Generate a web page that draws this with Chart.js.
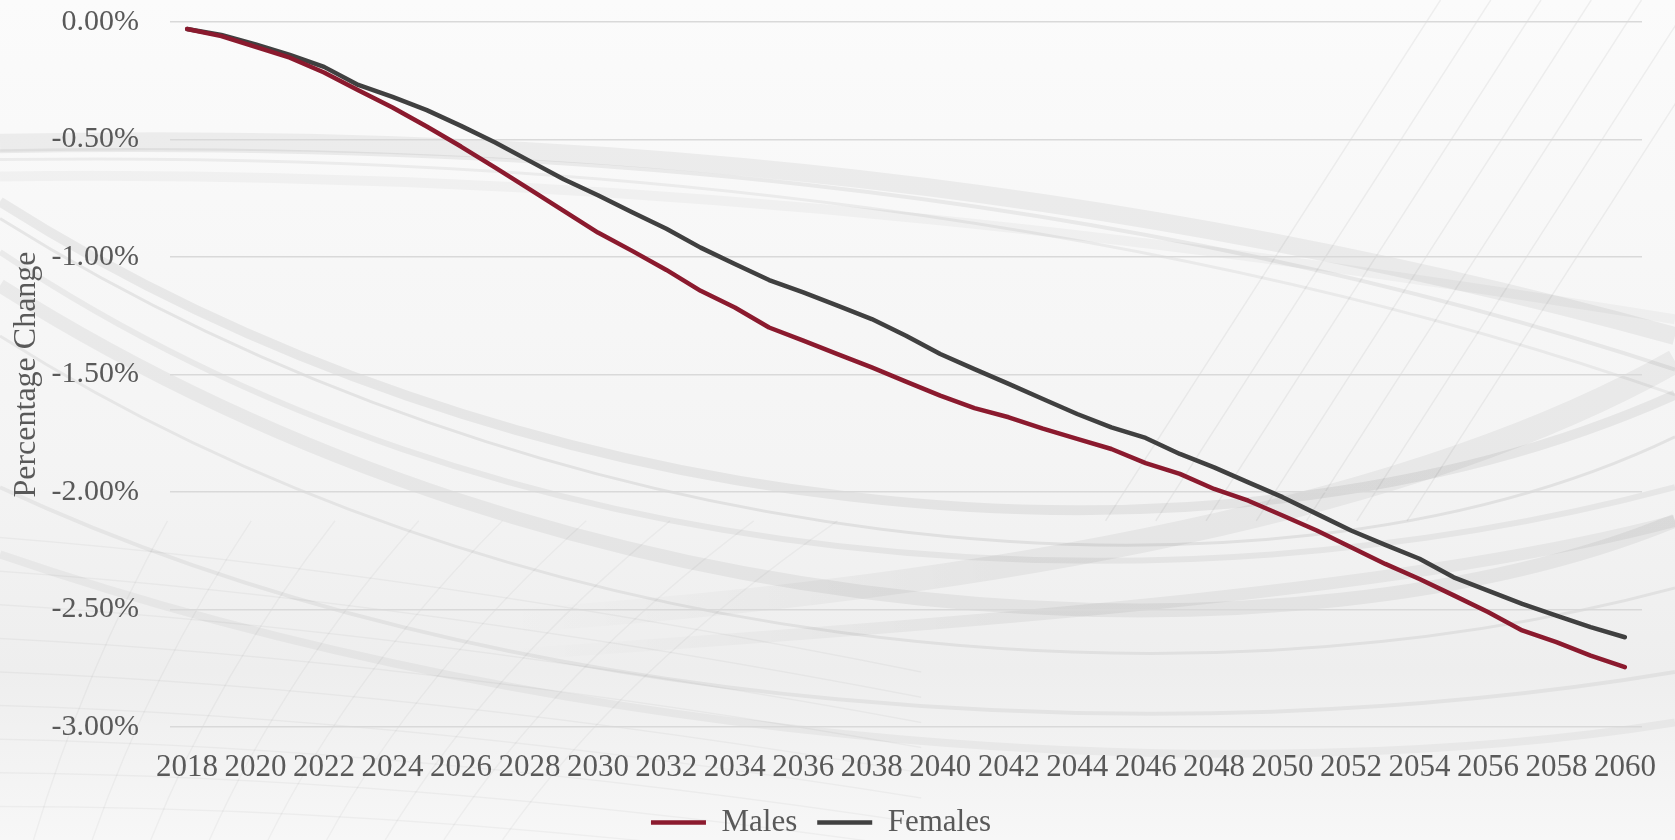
<!DOCTYPE html>
<html>
<head>
<meta charset="utf-8">
<title>Percentage Change</title>
<script src="https://cdn.jsdelivr.net/npm/chart.js@4.4.1/dist/chart.umd.min.js"></script>
<style>
    html, body { margin: 0; padding: 0; background: #fff; overflow: hidden; }
    #wrap { position: relative; width: 1675px; height: 840px; }
</style>
</head>
<body>
<div id="wrap"><canvas id="popChart"></canvas></div>
<script>
// Данные (в процентах)
const years = [
    '2018', '2019', '2020', '2021', '2022', '2023', '2024', '2025', '2026', '2027',
    '2028', '2029', '2030', '2031', '2032', '2033', '2034', '2035', '2036', '2037',
    '2038', '2039', '2040', '2041', '2042', '2043', '2044', '2045', '2046', '2047',
    '2048', '2049', '2050', '2051', '2052', '2053', '2054', '2055', '2056', '2057',
    '2058', '2059', '2060'
];

const males = [
    -0.03, -0.06, -0.106, -0.152, -0.215, -0.29, -0.364, -0.445, -0.53, -0.62,
    -0.711, -0.804, -0.896, -0.974, -1.055, -1.144, -1.215, -1.30, -1.356, -1.413,
    -1.47, -1.53, -1.59, -1.643, -1.682, -1.73, -1.774, -1.817, -1.877, -1.923,
    -1.987, -2.037, -2.10, -2.164, -2.235, -2.306, -2.37, -2.44, -2.511, -2.589,
    -2.639, -2.696, -2.745
];

const females = [
    -0.03, -0.055, -0.095, -0.14, -0.191, -0.268, -0.319, -0.375, -0.442, -0.513,
    -0.591, -0.669, -0.737, -0.81, -0.88, -0.96, -1.03, -1.098, -1.151, -1.207,
    -1.264, -1.335, -1.413, -1.477, -1.54, -1.604, -1.668, -1.725, -1.77, -1.838,
    -1.895, -1.959, -2.022, -2.093, -2.164, -2.225, -2.284, -2.363, -2.42, -2.476,
    -2.526, -2.575, -2.618
];

const yMin = -3;
const yMax = 0;
const yStep = 0.5;

const serif = '"Liberation Serif", "Times New Roman", serif';
const textGrey = '#595959';

// Декоративный фон: светлые серые "волны" (доли ширины/высоты холста)
const swooshes = [
    // x0, y0, c1x, c1y, c2x, c2y, x1, y1, ширина, прозрачность
    [0.00, 0.17, 0.25, 0.16, 0.60, 0.18, 1.00, 0.40, 18, 0.05],
    [0.00, 0.18, 0.30, 0.17, 0.65, 0.21, 1.00, 0.44, 4, 0.06],
    [0.00, 0.19, 0.35, 0.18, 0.70, 0.26, 1.00, 0.47, 3, 0.05],
    [0.00, 0.21, 0.40, 0.20, 0.75, 0.30, 1.00, 0.38, 10, 0.03],
    [0.00, 0.24, 0.30, 0.62, 0.72, 0.72, 1.00, 0.47, 10, 0.06],
    [0.00, 0.26, 0.32, 0.66, 0.75, 0.76, 1.00, 0.52, 3, 0.07],
    [0.00, 0.30, 0.30, 0.70, 0.70, 0.74, 1.00, 0.58, 6, 0.05],
    [0.00, 0.34, 0.35, 0.78, 0.78, 0.80, 1.00, 0.62, 14, 0.05],
    [0.00, 0.40, 0.30, 0.78, 0.70, 0.86, 1.00, 0.70, 3, 0.06],
    [0.30, 0.74, 0.60, 0.70, 0.85, 0.60, 1.00, 0.43, 24, 0.05],
    [0.30, 0.78, 0.60, 0.74, 0.85, 0.70, 1.00, 0.62, 12, 0.05],
    [0.00, 0.58, 0.30, 0.86, 0.70, 0.90, 1.00, 0.80, 4, 0.05],
    [0.00, 0.66, 0.35, 0.90, 0.75, 0.94, 1.00, 0.86, 8, 0.04]
];

const backdrop = {
    id: 'backdrop',
    beforeDraw(chart) {
        const { ctx, width: w, height: h } = chart;
        ctx.save();
        const g = ctx.createLinearGradient(0, 0, 0, h);
        g.addColorStop(0, '#fbfbfb');
        g.addColorStop(0.55, '#f4f4f4');
        g.addColorStop(0.8, '#eeeeee');
        g.addColorStop(1, '#f7f7f7');
        ctx.fillStyle = g;
        ctx.fillRect(0, 0, w, h);
        ctx.lineCap = 'butt';
        swooshes.forEach(s => {
            ctx.beginPath();
            ctx.moveTo(s[0] * w, s[1] * h);
            ctx.bezierCurveTo(s[2] * w, s[3] * h, s[4] * w, s[5] * h, s[6] * w, s[7] * h);
            ctx.lineWidth = s[8];
            if (s[0] > 0) {
                // плавное появление, если волна начинается не от края
                const fade = ctx.createLinearGradient(s[0] * w, 0, (s[0] + 0.3) * w, 0);
                fade.addColorStop(0, 'rgba(0,0,0,0)');
                fade.addColorStop(1, `rgba(0,0,0,${s[9]})`);
                ctx.strokeStyle = fade;
            } else {
                ctx.strokeStyle = `rgba(0,0,0,${s[9]})`;
            }
            ctx.stroke();
        });
        // тонкие диагонали справа сверху
        ctx.lineWidth = 1.5;
        ctx.strokeStyle = 'rgba(0,0,0,0.05)';
        for (let k = 0; k < 7; k++) {
            ctx.beginPath();
            ctx.moveTo(w * (0.66 + k * 0.03), h * 0.62);
            ctx.lineTo(w * (0.86 + k * 0.03), 0);
            ctx.stroke();
        }
        // сетка слева снизу
        ctx.strokeStyle = 'rgba(0,0,0,0.035)';
        for (let k = 0; k < 9; k++) {
            ctx.beginPath();
            ctx.moveTo(0, h * (0.64 + k * 0.04));
            ctx.quadraticCurveTo(w * 0.25, h * (0.68 + k * 0.035), w * 0.55, h * (0.8 + k * 0.03));
            ctx.stroke();
            ctx.beginPath();
            ctx.moveTo(w * (0.02 + k * 0.035), h);
            ctx.quadraticCurveTo(w * (0.05 + k * 0.04), h * 0.8, w * (0.1 + k * 0.05), h * 0.62);
            ctx.stroke();
        }
        ctx.restore();
    }
};

function initChart() {
    const ctx = document.getElementById('popChart');
    if (!ctx) return;

    new Chart(ctx, {
        type: 'line',
        data: {
            labels: years,
            datasets: [
                {
                    label: 'Males',
                    data: males,
                    borderColor: '#8b1a2e',
                    backgroundColor: '#8b1a2e',
                    borderWidth: 4.5,
                    borderCapStyle: 'round',
                    borderJoinStyle: 'round',
                    pointRadius: 0,
                    pointHoverRadius: 0,
                    pointStyle: 'line',
                    tension: 0
                },
                {
                    label: 'Females',
                    data: females,
                    borderColor: '#404040',
                    backgroundColor: '#404040',
                    borderWidth: 4.5,
                    borderCapStyle: 'round',
                    borderJoinStyle: 'round',
                    pointRadius: 0,
                    pointHoverRadius: 0,
                    pointStyle: 'line',
                    tension: 0
                }
            ]
        },
        options: {
            responsive: true,
            maintainAspectRatio: false,
            animation: false,
            layout: {
                padding: { top: 0, right: 33, bottom: -8, left: 0 }
            },
            scales: {
                x: {
                    offset: true,
                    grid: { display: false },
                    border: { display: false },
                    ticks: {
                        autoSkip: false,
                        maxRotation: 0,
                        minRotation: 0,
                        padding: 14,
                        color: textGrey,
                        font: { family: serif, size: 31 },
                        callback: (v, i) => (i % 2 === 0 ? years[i] : '')
                    },
                    afterFit: scale => { scale.height = 60; }
                },
                y: {
                    min: yMin,
                    max: yMax,
                    grid: {
                        color: '#d9d9d9',
                        lineWidth: 1.5,
                        drawTicks: true,
                        tickLength: 27,
                        tickColor: 'rgba(0,0,0,0)'
                    },
                    border: { display: false },
                    ticks: {
                        stepSize: yStep,
                        padding: 4,
                        color: textGrey,
                        font: { family: serif, size: 30 },
                        callback: v => v.toFixed(2) + '%'
                    },
                    title: {
                        display: true,
                        text: 'Percentage Change',
                        color: textGrey,
                        font: { family: serif, size: 32 },
                        padding: { top: 7, bottom: 0 }
                    },
                    afterFit: scale => { scale.width = 170; }
                }
            },
            plugins: {
                legend: {
                    position: 'bottom',
                    labels: {
                        usePointStyle: true,
                        pointStyleWidth: 55,
                        padding: 20,
                        color: textGrey,
                        font: { family: serif, size: 31 }
                    }
                },
                tooltip: { enabled: false }
            }
        },
        plugins: [backdrop]
    });
}

document.addEventListener('DOMContentLoaded', initChart);
</script>
</body>
</html>
